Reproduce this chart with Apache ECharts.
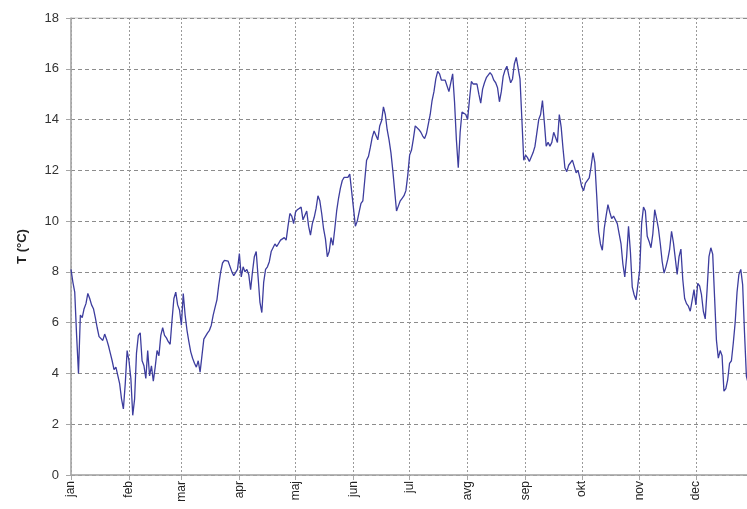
<!DOCTYPE html>
<html>
<head>
<meta charset="utf-8">
<script src="https://cdn.jsdelivr.net/npm/echarts@6/dist/echarts.min.js"></script>
<style>
  html, body { margin: 0; padding: 0; background: #fff; overflow: hidden; }
  #chart { width: 747px; height: 509px; }
</style>
</head>
<body>
<div id="chart"></div>
<script>
// Month names shown on the x axis and the length of each month in days
const monthNames = ['jan', 'feb', 'mar', 'apr', 'maj', 'jun', 'jul', 'avg', 'sep', 'okt', 'nov', 'dec'];
const monthLengths = [31, 28, 31, 30, 31, 30, 31, 31, 30, 31, 30, 31];

// Y axis ticks (°C)
const yTicks = [0, 2, 4, 6, 8, 10, 12, 14, 16, 18];

// Daily mean temperature (°C), one value per day starting 1 January
const temps = [
  8.1, 7.6, 7.2, 5.5, 4.0, 6.3, 6.2, 6.55, 6.75, 7.15,
  6.95, 6.7, 6.55, 6.2, 5.8, 5.45, 5.5, 5.3, 5.55, 5.35,
  5.1, 4.8, 4.5, 4.15, 4.25, 4.3, 3.6, 3.0, 2.6, 3.6,
  4.9, 4.5, 3.8, 2.35, 3.0, 4.8, 5.5, 5.6, 4.5, 4.3,
  3.8, 4.9, 3.9, 4.3, 3.7, 4.25, 4.9, 4.7, 5.5, 5.8,
  5.5, 5.4, 5.25, 5.15, 6.1, 6.95, 7.2, 6.7, 6.5, 5.9,
  7.15, 6.3, 5.7, 5.25, 4.85, 4.6, 4.4, 4.25, 4.5, 4.05,
  4.7, 5.35, 5.4, 5.6, 5.7, 5.9, 6.3, 6.6, 6.9, 7.5,
  8.0, 8.35, 8.45, 8.42, 8.42, 8.35, 8.0, 7.85, 7.8, 8.1,
  8.72, 7.8, 8.2, 8.0, 8.1, 7.9, 7.3, 8.0, 8.6, 8.8,
  7.8, 6.8, 6.4, 7.6, 8.1, 8.2, 8.4, 8.8, 8.95, 9.1,
  9.0, 9.0, 9.25, 9.25, 9.35, 9.25, 9.8, 10.3, 10.2, 9.9,
  10.35, 10.45, 10.4, 10.55, 10.05, 10.05, 10.4, 9.8, 9.45, 9.9,
  10.15, 10.5, 11.0, 10.8, 10.3, 9.7, 9.3, 8.6, 8.8, 9.35,
  9.05, 9.7, 10.4, 10.9, 11.3, 11.6, 11.72, 11.76, 11.72, 11.85,
  11.8, 10.5, 9.8, 10.0, 10.35, 10.7, 10.8, 11.6, 12.4, 12.55,
  12.9, 13.3, 13.55, 13.6, 13.2, 13.75, 13.95, 14.5, 14.2, 13.6,
  13.2, 12.7, 12.0, 11.2, 10.4, 10.6, 10.8, 10.9, 11.0, 11.2,
  11.8, 12.6, 12.8, 13.24, 13.75, 13.8, 13.6, 13.5, 13.35, 13.25,
  13.45, 13.5, 14.2, 14.75, 15.1, 15.6, 15.9, 15.8, 15.55, 15.6,
  15.55, 15.5, 15.1, 15.1, 15.8, 14.7, 13.2, 12.1, 13.5, 14.3,
  14.3, 14.2, 14.0, 14.8, 15.5, 15.4, 15.35, 15.4, 15.0, 14.65,
  15.2, 15.45, 15.65, 15.6, 15.85, 15.75, 15.55, 15.45, 15.25, 14.7,
  15.1, 15.7, 15.95, 16.1, 15.75, 15.45, 15.6, 16.2, 16.45, 16.45,
  15.6, 14.0, 12.4, 12.6, 12.5, 12.35, 12.3, 12.7, 12.95, 12.9,
  14.0, 14.2, 14.75, 13.9, 12.95, 13.1, 12.95, 13.1, 13.5, 13.45,
  13.1, 14.2, 13.7, 12.85, 12.1, 11.95, 12.2, 12.25, 12.4, 12.35,
  11.9, 12.0, 11.7, 11.35, 11.2, 11.5, 11.5, 11.7, 12.15, 12.7,
  12.3, 11.0, 9.6, 9.1, 8.85, 9.7, 10.2, 10.65, 10.35, 10.1,
  10.2, 10.25, 9.9, 9.5, 9.1, 8.3, 7.8, 8.6, 9.8, 8.8,
  7.4, 7.1, 6.9, 6.9, 8.1, 9.9, 10.55, 10.4, 9.4, 9.2,
  8.95, 9.5, 10.45, 10.1, 9.7, 9.1, 8.4, 7.95, 8.2, 8.5,
  8.9, 9.6, 9.15, 9.1, 7.9, 8.6, 8.9, 7.7, 6.95, 6.75,
  6.65, 6.45, 6.4, 7.3, 6.7, 7.55, 7.45, 7.1, 6.45, 6.15,
  7.3, 8.6, 8.95, 8.7, 7.0, 5.3, 4.6, 4.9, 4.7, 3.3,
  3.4, 3.75, 4.4, 4.5, 5.2, 6.0, 7.2, 7.9, 8.1, 7.5,
  5.6, 3.9, 3.6
];

// One category per day of the year; month names only on the first day of each month
const dayCategories = [];
const monthStart = {};
monthLengths.forEach((len, m) => {
  for (let d = 0; d < len; d++) {
    if (d === 0) monthStart[dayCategories.length] = monthNames[m];
    dayCategories.push(d === 0 ? monthNames[m] : '');
  }
});
const isMonthStart = (idx) => monthStart[idx] !== undefined;

const chart = echarts.init(document.getElementById('chart'), null, { renderer: 'canvas' });

chart.setOption({
  animation: false,
  backgroundColor: '#ffffff',
  grid: {
    left: 71,
    top: 18,
    bottom: 34,
    width: 681,
    containLabel: false,
    outerBoundsMode: 'none',
    show: true,
    borderColor: '#c8c8c8',
    borderWidth: 1
  },
  xAxis: {
    type: 'category',
    data: dayCategories,
    boundaryGap: false,
    axisLine: { lineStyle: { color: '#a6a6a6', width: 1.5 } },
    axisTick: {
      show: true,
      interval: isMonthStart,
      length: 5,
      lineStyle: { color: '#a6a6a6' }
    },
    axisLabel: {
      interval: isMonthStart,
      rotate: 90,
      margin: 6,
      color: '#222',
      fontFamily: 'Liberation Sans, Arial, sans-serif',
      fontSize: 12
    },
    splitLine: {
      show: true,
      interval: isMonthStart,
      lineStyle: { color: '#9a9a9a', type: [2, 2], width: 1 }
    }
  },
  yAxis: {
    type: 'value',
    min: yTicks[0],
    max: yTicks[yTicks.length - 1],
    interval: 2,
    name: 'T (°C)',
    nameLocation: 'middle',
    nameGap: 42,
    nameTextStyle: {
      fontFamily: 'Liberation Sans, Arial, sans-serif',
      fontWeight: 'bold',
      fontSize: 13,
      color: '#222'
    },
    axisLine: { show: true, lineStyle: { color: '#a6a6a6', width: 1.5 } },
    axisTick: { show: true, length: 5, lineStyle: { color: '#a6a6a6' } },
    axisLabel: {
      margin: 12,
      color: '#333',
      fontFamily: 'Liberation Sans, Arial, sans-serif',
      fontSize: 13
    },
    splitLine: {
      show: true,
      lineStyle: { color: '#8c8c8c', type: [4, 3], width: 1 }
    }
  },
  series: [{
    type: 'line',
    data: temps,
    showSymbol: false,
    smooth: false,
    lineStyle: { color: '#3d3d9e', width: 1.3 },
    clip: true
  }]
});
</script>
</body>
</html>
